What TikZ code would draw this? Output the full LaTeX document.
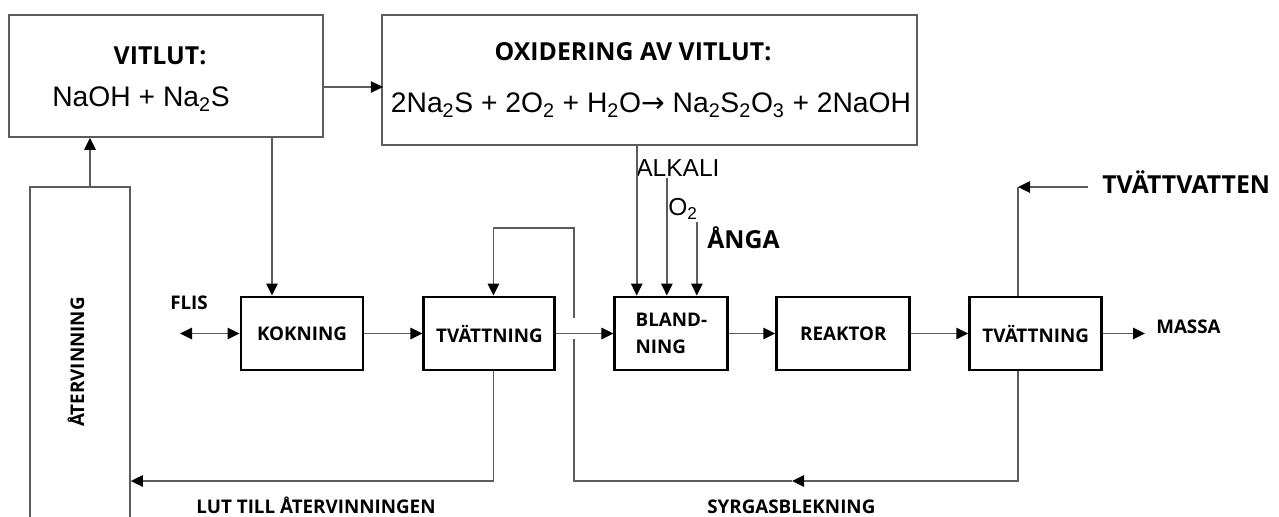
\documentclass[tikz,border=0pt]{standalone}
\usepackage{fontspec}
\setmainfont{Open Sans}
\newfontfamily\arialfont{Liberation Sans}
\newfontfamily\pilfont{DejaVu Sans}
\usetikzlibrary{arrows.meta,calc,positioning}
\definecolor{linjegra}{rgb}{0.36,0.36,0.36}
\tikzset{
  steg/.style={
    draw=black,
    line width=2.2pt,
    minimum height=54.75pt,
    align=center,
    inner sep=2pt,
    font=\bfseries\fontsize{14.1}{20}\selectfont
  },
  ram/.style={
    draw=linjegra,
    line width=1.3pt,
    inner sep=0pt
  },
  etikett/.style={
    inner sep=0pt,
    font=\bfseries\fontsize{14.1}{17}\selectfont
  },
  rubrik/.style={
    inner sep=0pt,
    font=\bfseries\fontsize{18.6}{22}\selectfont
  },
  formel/.style={
    inner sep=0pt,
    font=\arialfont\fontsize{21.2}{25}\selectfont
  },
  tillsats/.style={
    inner sep=0pt,
    font=\arialfont\fontsize{18.4}{22}\selectfont
  },
  pil/.style={
    -{Triangle[length=9pt,width=8.5pt,color=black]},
    line width=1.4pt,
    linjegra
  },
  dubbelpil/.style={
    {Triangle[length=9pt,width=8.5pt,color=black]}-{Triangle[length=9pt,width=8.5pt,color=black]},
    line width=1.4pt,
    linjegra
  },
  linje/.style={
    line width=1.4pt,
    linjegra
  }
}

\begin{document}
\begin{tikzpicture}[x=0.75pt,y=-0.75pt,node distance=42.75pt]
\useasboundingbox (0,0) rectangle (1279,517);
\clip (0,0) rectangle (1279,517);

% rutor upptill
\node[ram, minimum width=235.5pt, minimum height=91.5pt] (vitlut) at (166,76) {};
\node[rubrik, anchor=base] (vitlutrubrik) at (160,65) {VITLUT:};
\node[formel, anchor=base] (vitlutformel) at (141,107) {NaOH + Na\textsubscript{2}S};
\node[ram, minimum width=401.25pt, minimum height=97.5pt] (oxid) at (649.5,80) {};
\node[rubrik, anchor=base] (oxidrubrik) at (633,61) {OXIDERING AV VITLUT:};
\node[formel, anchor=base] (oxidformel) at (651,113)
  {2Na\textsubscript{2}S + 2O\textsubscript{2} + H\textsubscript{2}O{\pilfont →} Na\textsubscript{2}S\textsubscript{2}O\textsubscript{3} + 2NaOH};
\node[ram, minimum width=75pt, minimum height=256.5pt] (atervinning) at (80,358) {};
\node[etikett, rotate=90] (atervinningtext) at (76,362) {ÅTERVINNING};

% processkedjan
\node[steg, minimum width=91.5pt] (kokning) at (302,333.5) {KOKNING};
\node[steg, minimum width=98.25pt, right=43.5pt of kokning] (tvatt1) {TVÄTTNING};
\node[steg, minimum width=84.75pt, right=of tvatt1, align=left] (bland) {BLAND-\\NING};
\node[steg, minimum width=99.75pt, right=34.5pt of bland] (reaktor) {REAKTOR};
\node[steg, minimum width=99pt, right=of reaktor] (tvatt2) {TVÄTTNING};

% texter
\node[etikett, anchor=base west] (flis) at (170,309) {FLIS};
\node[tillsats, anchor=base west] (alkali) at (636,176) {ALKALI};
\node[tillsats, anchor=base west] (syre) at (668,215) {O\textsubscript{2}};
\node[rubrik, anchor=base west] (anga) at (707,248) {ÅNGA};
\node[rubrik, anchor=base west] (tvattvatten) at (1102,193) {TVÄTTVATTEN};
\node[etikett, anchor=base west] (massa) at (1156,333) {MASSA};
\node[etikett, anchor=base] (luttext) at (316,513) {LUT TILL ÅTERVINNINGEN};
\node[etikett, anchor=base west] (syrgastext) at (707,513) {SYRGASBLEKNING};

\coordinate (flisslut) at (180,333.5);
\coordinate (massaslut) at (1145,333.5);
\coordinate (vattenstart) at (1088,187);
\coordinate (vattenhorn) at (1018,187);
\coordinate (syrgasmitt) at (792,481);
\coordinate (korsning) at (574,481);

% pilar
\draw[pil] ($(vitlut.east)+(0,11)$) -- ($(vitlut.east)+(59,11)$);
\draw[pil] ([xshift=7.5pt]atervinning.north) -- ([xshift=7.5pt]atervinning.north |- vitlut.south);
\draw[pil] ([xshift=-22.5pt]kokning.north |- vitlut.south) -- ([xshift=-22.5pt]kokning.north);
\draw[dubbelpil] (flisslut) -- (kokning.west);
\draw[pil] (kokning) -- (tvatt1);
\draw[pil] (tvatt1) -- (bland);
\draw[pil] (bland) -- (reaktor);
\draw[pil] (reaktor) -- (tvatt2);
\draw[pil] (tvatt2) -- (massaslut);
\draw[pil] ([xshift=-26pt]bland.north |- oxid.south) -- ([xshift=-26pt]bland.north);
\draw[pil] ([xshift=-3.4pt]bland.north |- syre.north) ++(0,-20) -- ([xshift=-3.4pt]bland.north);
\draw[pil] ([xshift=19.1pt]bland.north |- anga.north) ++(0,-4) -- ([xshift=19.1pt]bland.north);
\draw[pil] (vattenstart) -- (vattenhorn);
\draw[linje] (vattenhorn) -- (vattenhorn |- tvatt2.north);
\draw[pil] ([xshift=3pt]tvatt1.south) |- ($(atervinning.east)+(0,123)$);
\draw[pil] (vattenhorn |- tvatt2.south) |- (syrgasmitt);
\draw[linje] (syrgasmitt) -- (korsning) -- (574,339);
\draw[pil] (574,318) -- (574,228) -| ([xshift=3pt]tvatt1.north);
\end{tikzpicture}
\end{document}
